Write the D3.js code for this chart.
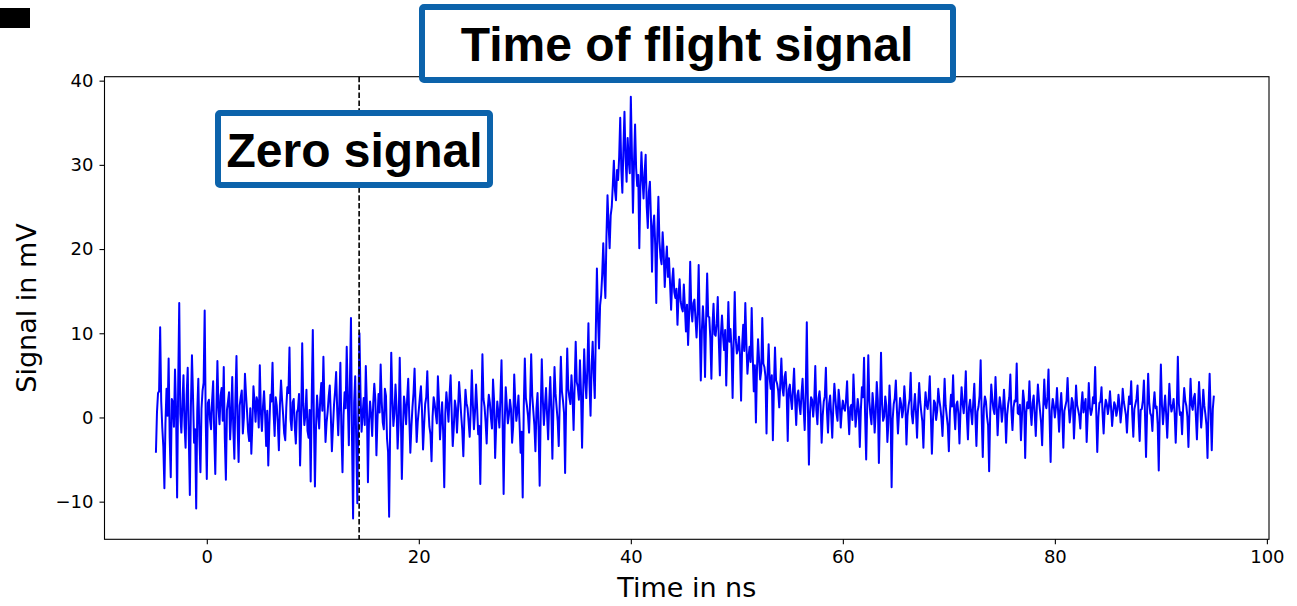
<!DOCTYPE html>
<html>
<head>
<meta charset="utf-8">
<script src="https://cdn.jsdelivr.net/npm/d3@7"></script>
<style>
  html, body { margin: 0; padding: 0; background: #ffffff; }
  svg { display: block; }
</style>
</head>
<body>
<svg id="chart" width="1297" height="606"></svg>
<script>
// Oscilloscope trace: one sample every 0.1 ns starting at -4.8 ns, values in mV (5 ns per row)
const sampleStartNs = -4.8;
const sampleStepNs = 0.1;
const signalMv = [
  -4.2, 0.6, 2.9, 3.1, 10.7, 1.9, -1.2, -3.5, -8.4, -0.7, 3.4, 0.2, 7.0, -2.4, -7.1, 2.2, 1.8, -1.1, 5.7, 0.9, -9.5, 3.8, 13.6, 0.4, -1.8, 1.6, 5.0, -0.9, -3.6, 2.7, 5.9, -2.1, -9.2, 1.3, 7.4, 2.5, -3.0, -1.4, -10.8, 0.8, 4.6, -2.2, -6.5, 1.0, 3.2, 4.1, 12.7, -0.3, -7.3, 1.7,
  2.1, -0.2, -1.4, 2.0, 4.3, -1.8, -6.7, 0.5, 6.7, 1.2, -0.8, 2.6, 3.5, -0.4, 6.0, -2.5, -7.4, 0.9, 1.9, 3.0, -2.6, 0.1, 4.8, -1.3, -4.9, 2.3, 7.3, -0.6, -5.3, 1.4, 2.4, 3.2, -1.9, 0.0, 5.2, 2.7, 0.6, -1.7, -2.8, 1.1, -4.3, -0.8, 3.7, 1.9, -0.5, 2.4, 1.8, -1.2, 6.2, 0.7,
  -1.6, 1.3, 3.1, 0.4, -3.4, 0.8, -5.7, -1.0, 2.7, 1.9, 6.5, 0.6, -2.2, 2.4, 1.4, -0.7, -3.9, 1.5, 4.4, 2.1, 0.3, -1.9, -2.7, 1.2, 3.6, 2.9, 8.3, -0.2, -1.5, 1.8, 2.2, -1.1, -3.1, 0.6, 1.0, 2.8, -5.7, -0.5, 8.8, 1.7, -0.9, 0.3, 3.3, -1.6, -2.4, 0.9, -7.6, 2.5, 10.4, 0.1,
  -8.2, -1.3, 2.6, 0.5, -1.3, 2.2, 4.1, 0.8, 7.2, 1.4, -2.9, -0.6, 0.7, 2.5, 3.8, 0.2, -4.0, -1.2, 1.5, 3.1, 5.4, 0.9, -2.1, 1.6, 6.5, -1.8, -6.5, 0.3, 3.0, 1.1, 8.4, 2.0, -3.3, 4.2, 11.8, -2.7, -12.0, 1.8, 4.9, -3.1, -10.2, 0.7, 10.0, 2.9, -1.7, 0.4, 2.3, -0.9, 6.1, 1.5,
  -7.7, -0.4, 1.9, 0.3, -2.2, 1.7, 4.0, 2.1, -4.5, -0.2, 2.8, 0.6, 6.3, 1.9, -0.6, -1.4, 3.4, 2.6, -2.5, -4.1, -11.8, -0.8, 7.7, 2.3, -1.0, 0.5, 3.9, 1.2, -3.7, -0.6, 7.1, 0.8, -7.3, -1.5, 2.5, 1.4, -0.8, 2.2, 4.6, 0.0, -4.2, -1.1, 1.2, 2.9, 5.8, 1.0, -2.9, -0.5, 0.9, 2.4,
  3.7, 0.8, -3.8, -0.9, 1.6, 2.4, 5.5, 1.3, -1.1, -2.0, -5.2, 0.1, 2.4, 1.6, 0.4, -0.7, 4.9, 2.0, -2.6, -0.3, 1.8, -1.9, -8.3, 0.5, 3.0, 1.4, -0.5, 2.7, 5.0, 0.6, -3.4, -1.2, 2.0, 1.1, -1.8, 0.9, 4.2, 2.3, 0.2, -1.5, -4.6, -0.1, 3.3, 1.7, 1.1, -0.6, -2.3, 1.0, 5.6, 1.5,
  -1.4, 0.7, 3.9, 1.2, -2.0, -1.0, -7.9, 0.4, 7.5, 2.2, 1.3, -0.5, -3.1, 0.9, 2.7, 1.8, 0.0, -1.3, 4.5, 2.0, -4.8, -0.9, 1.9, 0.6, -1.2, 2.5, 6.8, -0.2, -9.1, -0.8, 3.6, 1.5, -0.7, 0.3, 2.1, 1.0, -3.0, -1.1, 5.1, 1.9, -0.4, 0.8, 2.6, -0.6, -4.2, -1.7, -9.5, 1.2, 7.0, 2.3,
  1.4, 0.2, -1.8, 1.9, 7.5, 2.6, 0.8, -0.9, -4.0, 1.1, 2.9, -1.5, -8.1, 0.6, 6.9, 2.1, -0.9, 1.4, 3.5, 0.3, -2.6, 1.7, 4.8, 0.9, -4.9, 1.3, 6.0, 2.8, 1.2, -0.4, -3.4, 2.2, 7.2, 3.1, 2.0, 0.5, -6.6, 1.8, 8.2, 3.4, 2.4, 1.6, 5.0, 2.7, -1.5, 3.9, 9.0, 4.2, 3.6, 2.1,
  6.8, 3.0, -3.6, 2.8, 8.1, 4.5, 2.3, 5.9, 11.2, 4.0, 0.2, 6.1, 9.0, 5.2, 2.3, 10.5, 17.7, 11.9, 8.2, 13.3, 14.5, 17.0, 20.7, 16.8, 14.2, 21.5, 26.4, 22.9, 20.1, 24.0, 25.0, 27.6, 30.5, 27.0, 25.8, 29.4, 28.2, 31.0, 35.6, 29.5, 26.7, 32.0, 36.3, 30.9, 28.0, 33.2, 30.5, 29.0, 38.1, 31.4,
  24.3, 30.2, 34.8, 29.6, 27.5, 28.8, 20.1, 27.4, 31.5, 28.3, 26.0, 29.1, 31.2, 25.0, 22.5, 26.8, 28.0, 23.6, 17.3, 22.7, 24.0, 20.5, 13.6, 21.8, 26.2, 20.9, 19.0, 18.2, 22.0, 19.6, 15.5, 18.4, 20.3, 16.7, 18.9, 15.9, 12.8, 16.2, 17.7, 14.9, 14.2, 15.3, 11.0, 14.4, 16.4, 13.8, 13.0, 12.6, 15.8, 13.1,
  10.2, 13.4, 8.6, 12.2, 18.5, 12.9, 11.4, 13.6, 14.0, 11.7, 9.5, 12.5, 18.1, 11.0, 4.4, 10.3, 13.2, 10.9, 4.8, 11.6, 17.1, 12.0, 11.9, 9.4, 4.6, 10.8, 13.5, 9.9, 9.7, 11.2, 14.3, 9.1, 5.0, 10.0, 12.1, 9.6, 8.0, 10.4, 3.8, 8.7, 13.7, 9.0, 10.5, 8.2, 2.3, 8.9, 14.9, 9.3, 7.6, 8.1,
  9.6, 7.4, 2.0, 8.5, 11.0, 7.9, 13.6, 8.8, 5.2, 7.1, 8.4, 6.6, 13.0, 7.3, 3.1, 6.2, -0.6, 5.8, 9.3, 6.9, 4.5, 5.5, 11.8, 6.4, 6.0, 4.9, -1.9, 5.3, 8.7, 4.6, 3.4, 5.0, -2.7, 3.8, 8.3, 4.4, 4.0, 3.2, 1.2, 4.1, 7.0, 3.5, 2.6, 4.8, 5.4, 2.9, -2.8, 3.3, 3.9, 2.2,
  1.0, 3.4, 5.8, 2.0, -0.9, 2.6, 3.2, 1.5, 0.4, 2.8, 4.6, 1.2, -1.5, 3.0, 11.3, 1.7, -5.6, 0.6, 2.4, 2.1, 0.1, 1.8, 6.1, 0.9, -0.8, 2.3, 3.1, 1.4, -3.0, 0.2, 1.9, 2.5, 5.9, 0.7, -1.8, 1.6, 2.6, 0.3, -2.4, 1.3, 4.0, 2.2, 0.5, -0.4, 3.3, 1.9, -1.2, 0.8, 2.0, 1.1,
  0.8, 2.1, 4.3, 0.6, -2.0, 1.2, 1.5, -0.3, 5.1, 1.8, -1.1, 0.4, 2.2, 1.0, -3.5, 0.9, 3.6, 2.4, 7.1, 0.2, -5.0, 1.5, 7.4, 1.9, 0.3, -0.8, 2.9, 1.3, -1.8, 0.5, 4.2, 2.0, -5.4, 0.7, 7.7, 1.6, -0.4, 0.1, 2.5, 1.4, -2.9, -0.6, 3.8, 1.1, -8.3, -0.2, 1.6, 2.3, 4.4, 0.9,
  -1.9, 0.5, 2.3, 1.6, 0.0, 0.9, 3.7, 1.8, -3.2, 0.2, 1.4, 2.2, 5.3, 0.4, -0.7, 1.1, 2.8, 0.6, -2.4, 1.3, 4.1, 1.9, 0.6, -0.5, -3.6, 0.7, 3.0, 1.5, 1.0, 2.4, 4.9, 0.3, -4.3, -0.4, 2.0, 1.7, -0.3, 0.8, 3.4, 2.1, 1.2, -0.1, -2.2, 1.0, 4.6, 1.4, 0.2, -1.0, -4.0, 0.6,
  2.7, 1.3, 5.0, 0.8, -1.4, 1.5, 1.9, 0.4, -3.1, 0.9, 3.6, 1.7, 0.5, 2.3, 5.5, 0.1, -2.6, 1.2, 2.1, 0.6, -0.8, 1.8, 4.0, 0.3, -3.4, 0.7, 1.3, 2.6, 6.8, 0.0, -4.7, 1.1, 2.5, 1.9, 0.1, -0.9, -6.4, 0.5, 3.9, 2.2, 1.0, 0.4, 4.8, 1.6, -2.1, 0.8, 2.4, 1.4, -0.5, 0.9,
  3.3, 1.0, -3.0, 0.3, 1.6, 2.4, 5.1, 0.7, -1.5, 1.2, 2.0, 1.9, 6.4, 0.5, 0.4, 1.5, -2.7, 0.2, 3.2, 2.0, -4.8, 0.6, 1.8, 1.1, 4.3, 0.9, -0.9, 1.7, 2.6, 0.4, -2.2, 1.3, 3.9, 2.1, 0.8, -0.6, -3.3, 1.0, 4.5, 1.6, 1.1, 2.5, 5.7, 0.1, -5.3, 0.8, 2.2, 1.4, 0.0, 1.2,
  3.5, 0.9, -1.7, 1.1, 2.9, 0.5, -3.6, 0.8, 1.4, 2.0, 4.7, 1.3, -0.6, 0.7, 2.3, 1.8, -2.5, 0.4, 3.8, 1.5, 0.9, 0.2, -1.3, 1.4, 3.0, 0.6, 1.5, 2.2, -2.9, 0.3, 4.1, 1.2, 0.3, 0.9, 2.4, 1.7, 6.0, 0.8, -4.1, 0.0, 1.7, 1.9, 3.6, 0.5, -1.9, 1.0, 2.1, 1.6, 0.4, 1.3,
  3.1, 1.2, -1.0, 0.6, 1.8, 1.4, 0.2, 0.9, 2.7, 1.5, -0.6, 0.8, 3.4, 1.9, 1.1, 0.3, -1.8, 0.7, 2.5, 1.6, 4.3, 0.4, -2.3, 1.0, 1.6, 2.2, 3.8, 0.1, -2.8, 0.9, 1.0, 2.0, 4.4, 0.5, -4.7, 0.6, 5.2, 1.8, 0.5, 0.2, -1.6, 1.4, 3.0, 1.1, 1.3, -0.8, -6.3, 0.9, 6.3, 1.5,
  -0.8, 1.0, 2.6, 0.4, -2.4, 0.8, 4.0, 1.7, 0.7, 1.3, 2.2, 0.5, -3.0, 0.9, 7.2, 1.6, 0.3, 0.6, -2.0, 1.2, 3.5, 2.0, 1.4, 0.1, -3.5, 0.7, 4.6, 1.5, 0.9, 2.3, 2.8, 0.2, -2.6, 1.1, 4.2, 1.8, -1.2, 0.6, 3.3, 1.4, 0.4, -0.9, -4.8, 1.3, 5.2, 0.5, -3.9, 1.0, 2.6
];

// Start of the integration window (dashed marker), ns
const zeroWindowNs = 14.37;

// Axis domains and ticks
const xDomain = [-9.65, 100.2];
const yDomain = [-14.47, 40.47];
const xTicks = [0, 20, 40, 60, 80, 100];
const yTicks = [-10, 0, 10, 20, 30, 40];

// Text
const xLabel = "Time in ns";
const yLabel = "Signal in mV";
const titleText = "Time of flight signal";
const zeroText = "Zero signal";

const points = signalMv.map((v, i) => ({ t: sampleStartNs + i * sampleStepNs, v }));

const svg = d3.select("#chart");
const plot = { left: 104.5, right: 1269, top: 76.7, bottom: 539.3 };

const x = d3.scaleLinear().domain(xDomain).range([plot.left, plot.right]);
const y = d3.scaleLinear().domain(yDomain).range([plot.bottom, plot.top]);

const tickFont = "'DejaVu Sans', sans-serif";
const boxBlue = "#0c63ab";

// Small black marker in the corner
svg.append("rect")
  .attr("x", 0).attr("y", 8).attr("width", 30).attr("height", 20)
  .attr("fill", "#000");

// Signal trace
svg.append("defs").append("clipPath").attr("id", "plotClip")
  .append("rect")
  .attr("x", plot.left).attr("y", plot.top)
  .attr("width", plot.right - plot.left).attr("height", plot.bottom - plot.top);

svg.append("path")
  .datum(points)
  .attr("clip-path", "url(#plotClip)")
  .attr("fill", "none")
  .attr("stroke", "#0000ff")
  .attr("stroke-width", 2)
  .attr("stroke-linejoin", "round")
  .attr("d", d3.line().x(d => x(d.t)).y(d => y(d.v)));

// Dashed marker line
svg.append("line")
  .attr("x1", x(zeroWindowNs)).attr("x2", x(zeroWindowNs))
  .attr("y1", plot.top).attr("y2", plot.bottom)
  .attr("stroke", "#000")
  .attr("stroke-width", 1.6)
  .attr("stroke-dasharray", "5.5,2.4");

// Axes
const xAxis = d3.axisBottom(x).tickValues(xTicks).tickSize(5).tickPadding(6).tickFormat(d3.format("d"));
const yAxis = d3.axisLeft(y).tickValues(yTicks).tickSize(5).tickPadding(6).tickFormat(d3.format("d"));

const gx = svg.append("g").attr("transform", `translate(0,${plot.bottom})`).call(xAxis);
const gy = svg.append("g").attr("transform", `translate(${plot.left},0)`).call(yAxis);

[gx, gy].forEach(g => {
  g.select(".domain").remove();
  g.selectAll(".tick line").attr("stroke", "#000").attr("stroke-width", 1.1);
  g.selectAll(".tick text")
    .attr("fill", "#000")
    .style("font-family", tickFont)
    .style("font-size", "18px");
});

// Frame
svg.append("rect")
  .attr("x", plot.left).attr("y", plot.top)
  .attr("width", plot.right - plot.left).attr("height", plot.bottom - plot.top)
  .attr("fill", "none")
  .attr("stroke", "#000")
  .attr("stroke-width", 1.1);

// Axis labels
svg.append("text")
  .attr("x", (plot.left + plot.right) / 2)
  .attr("y", 597)
  .attr("text-anchor", "middle")
  .style("font-family", tickFont)
  .style("font-size", "27px")
  .attr("fill", "#000")
  .text(xLabel);

svg.append("text")
  .attr("transform", `translate(36,${(plot.top + plot.bottom) / 2}) rotate(-90)`)
  .attr("text-anchor", "middle")
  .style("font-family", tickFont)
  .style("font-size", "27px")
  .attr("fill", "#000")
  .text(yLabel);

// Boxed annotations
function boxedLabel(cx, baseline, rect, label) {
  svg.append("rect")
    .attr("x", rect.x).attr("y", rect.y)
    .attr("width", rect.w).attr("height", rect.h)
    .attr("rx", 2)
    .attr("fill", "#fff")
    .attr("stroke", boxBlue)
    .attr("stroke-width", 6);
  svg.append("text")
    .attr("x", cx).attr("y", baseline)
    .attr("text-anchor", "middle")
    .style("font-family", "'Liberation Sans', Arial, sans-serif")
    .style("font-weight", "bold")
    .style("font-size", "48px")
    .attr("fill", "#000")
    .text(label);
}

boxedLabel(354.5, 167, { x: 218, y: 113, w: 272, h: 72 }, zeroText);
boxedLabel(687, 61, { x: 422, y: 7, w: 531, h: 73 }, titleText);
</script>
</body>
</html>
